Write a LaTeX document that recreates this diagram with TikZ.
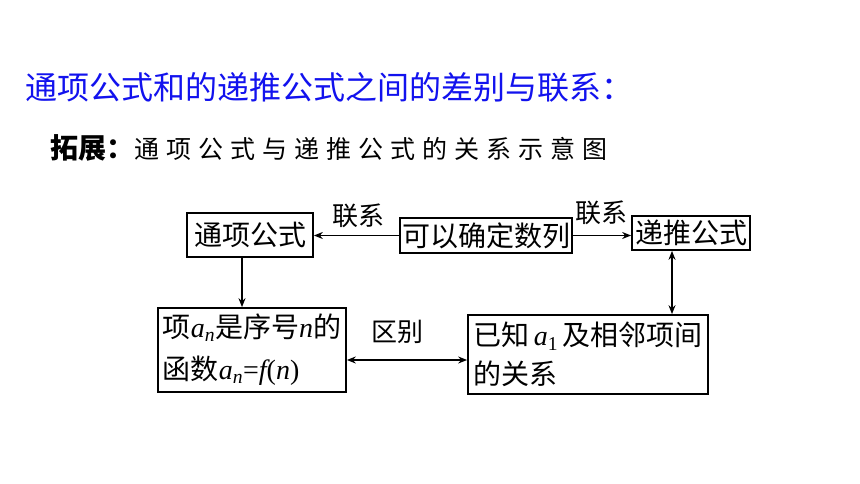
\documentclass[tikz,border=0pt]{standalone}
\usepackage{fontspec}
\setmainfont{Liberation Serif}
\newfontfamily\cjk{Noto Sans CJK SC}
\usetikzlibrary{arrows.meta,positioning}
\definecolor{titleblue}{RGB}{18,18,238}
\newcommand{\ital}[1]{{\rmfamily\itshape #1}}
\newcommand{\seqterm}[1]{\ital{a}\textsubscript{#1}}
\tikzset{
  box/.style={rectangle, draw, line width=1.7pt, inner sep=0pt, font=\cjk\fontsize{28}{42}\selectfont},
  link/.style={line width=1.4pt, -{Stealth[length=9pt,width=7pt]}},
  twoway/.style={line width=1.4pt, {Stealth[length=9pt,width=7pt]}-{Stealth[length=9pt,width=7pt]}},
  note/.style={font=\cjk\fontsize{26}{30}\selectfont, inner sep=0pt}
}
\begin{document}
\begin{tikzpicture}[x=1pt, y=-1pt]
\useasboundingbox (0,0) rectangle (860,484);
\node[anchor=west, inner sep=0pt, text=titleblue, font=\cjk\fontsize{32}{36}\selectfont] (title) at (25,87) {通项公式和的递推公式之间的差别与联系：};
\node[anchor=west, inner sep=0pt, font=\cjk\fontsize{28}{32}\selectfont] (sub) at (50,148) {{\bfseries 拓展：}{\fontsize{25}{30}\selectfont\addfontfeature{LetterSpace=28}通项公式与递推公式的关系示意图}};
\node[box, minimum width=126pt, minimum height=44pt] (general) at (250,235) {通项公式};
\node[box, minimum width=172pt, minimum height=35pt] (fixed) at (486,235.5) {可以确定数列};
\node[box, minimum width=118pt, minimum height=34pt] (recur) at (691,233) {递推公式};
\node[box, align=left, minimum width=188pt, minimum height=84pt] (func) at (252,350) {项\seqterm{\ital{n}}是序号\ital{n}的\\函数\seqterm{\ital{n}}{\rmfamily=}\ital{f}{\rmfamily(}\ital{n}{\rmfamily)}};
\node[box, align=left, minimum width=240pt, minimum height=79pt, font=\cjk\fontsize{28}{39}\selectfont] (rel) at (588,354.5) {已知\,\seqterm{\rmfamily 1}\,及相邻项间\\的关系};
\node[note] (link1) at (358,216) {联系};
\node[note] (link2) at (601,213) {联系};
\node[note] (diff) at (397,332) {区别};
\draw[link] (fixed.west) -- (fixed.west -| general.east);
\draw[link] (fixed.east) -- (fixed.east -| recur.west);
\draw[link] ([xshift=-8pt]general.south) -- ([xshift=-8pt]general.south |- func.north);
\draw[twoway] ([xshift=-19pt]recur.south) -- ([xshift=-19pt]recur.south |- rel.north);
\draw[twoway] ([yshift=-10pt]func.east) -- ([yshift=-10pt]func.east -| rel.west);
\end{tikzpicture}
\end{document}
